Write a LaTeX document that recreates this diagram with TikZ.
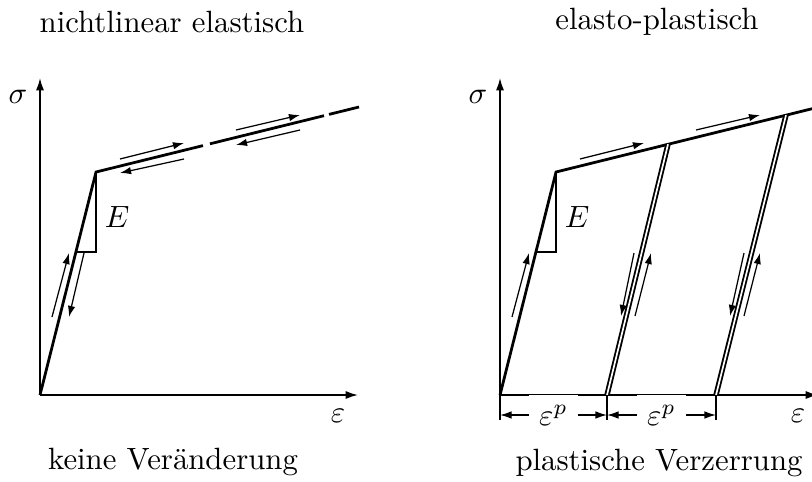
\documentclass[tikz,border=0pt]{standalone}
\usepackage{amsmath}
\usetikzlibrary{arrows.meta}

\begin{document}
\begin{tikzpicture}[x=0.325pt,y=-0.325pt,
  axis/.style={-{Latex[length=4pt,width=2.6pt]},line width=0.5pt},
  curve/.style={line width=0.9pt},
  unload/.style={double,double distance=0.55pt,line width=0.6pt},
  slope/.style={line width=0.5pt},
  hint/.style={-{Latex[length=3.6pt,width=2.4pt]},line width=0.4pt},
  dim/.style={{Latex[length=3.8pt,width=2.5pt]}-{Latex[length=3.8pt,width=2.5pt]},
    line width=0.45pt}]
\useasboundingbox (0,0) rectangle (812,481);
% left: nonlinear elastic
\node (tl) at (172,22) {nichtlinear elastisch};
\node (bl) at (173,462) {keine Ver\"anderung};
\coordinate (ol) at (40,395);
\coordinate (yl) at (96,172);
\draw[axis] (ol) -- (40,78);
\draw[axis] (ol) -- (358,395);
\node (sl) at (18,97) {$\sigma$};
\node (el) at (338,416) {$\varepsilon$};
\draw[slope] (yl) -- (96,252) -- (76,252);
\node (El) at (117,217) {$E$};
\draw[curve] (ol) -- (yl) -- (203,145.6);
\draw[curve] (210,143.8) -- (324,115.7);
\draw[curve] (329,114.4) -- (359,107);
\draw[hint] (52,317) -- (69,253);
\draw[hint] (84,253) -- (69,317);
\draw[hint] (120,159) -- (184,143);
\draw[hint] (184,159) -- (120,173);
\draw[hint] (236,130) -- (300,115);
\draw[hint] (300,130) -- (236,145);
% right: elasto-plastic
\node (tr) at (657,22) {elasto-plastisch};
\node (br) at (659,463) {plastische Verzerrung};
\coordinate (or) at (500,395);
\coordinate (yr) at (556,172);
\coordinate (u1) at (668,144.3);
\coordinate (u2) at (786,115.2);
\coordinate (r1) at (607,395);
\coordinate (r2) at (716,395);
\draw[axis] (or) -- (500,78);
\draw[axis] (or) -- (818,395);
\node (sr) at (478,97) {$\sigma$};
\node (er) at (798,416) {$\varepsilon$};
\draw[slope] (yr) -- (556,252) -- (536,252);
\node (Er) at (577,217) {$E$};
\draw[curve] (or) -- (yr) -- (u1) -- (u2) -- (819,107);
\draw[unload] (u1) -- (r1);
\draw[unload] (u2) -- (r2);
\draw[hint] (512,317) -- (529,253);
\draw[hint] (580,159) -- (644,143);
\draw[hint] (696,130) -- (760,115);
\draw[hint] (634,253) -- (621,316);
\draw[hint] (635,316) -- (651,253);
\draw[hint] (744,253) -- (730,316);
\draw[hint] (744,316) -- (760,253);
% plastic strain
\coordinate (d0) at (500,415);
\coordinate (d1) at (607,415);
\coordinate (d2) at (716,415);
\draw[slope] (or) -- (500,420);
\draw[slope] (r1) -- (607,420);
\draw[slope] (r2) -- (716,420);
\draw[dim] (d0) -- node[fill=white] (p1) {$\varepsilon^p$} (d1);
\draw[dim] (d1) -- node[fill=white] (p2) {$\varepsilon^p$} (d2);
\end{tikzpicture}
\end{document}
